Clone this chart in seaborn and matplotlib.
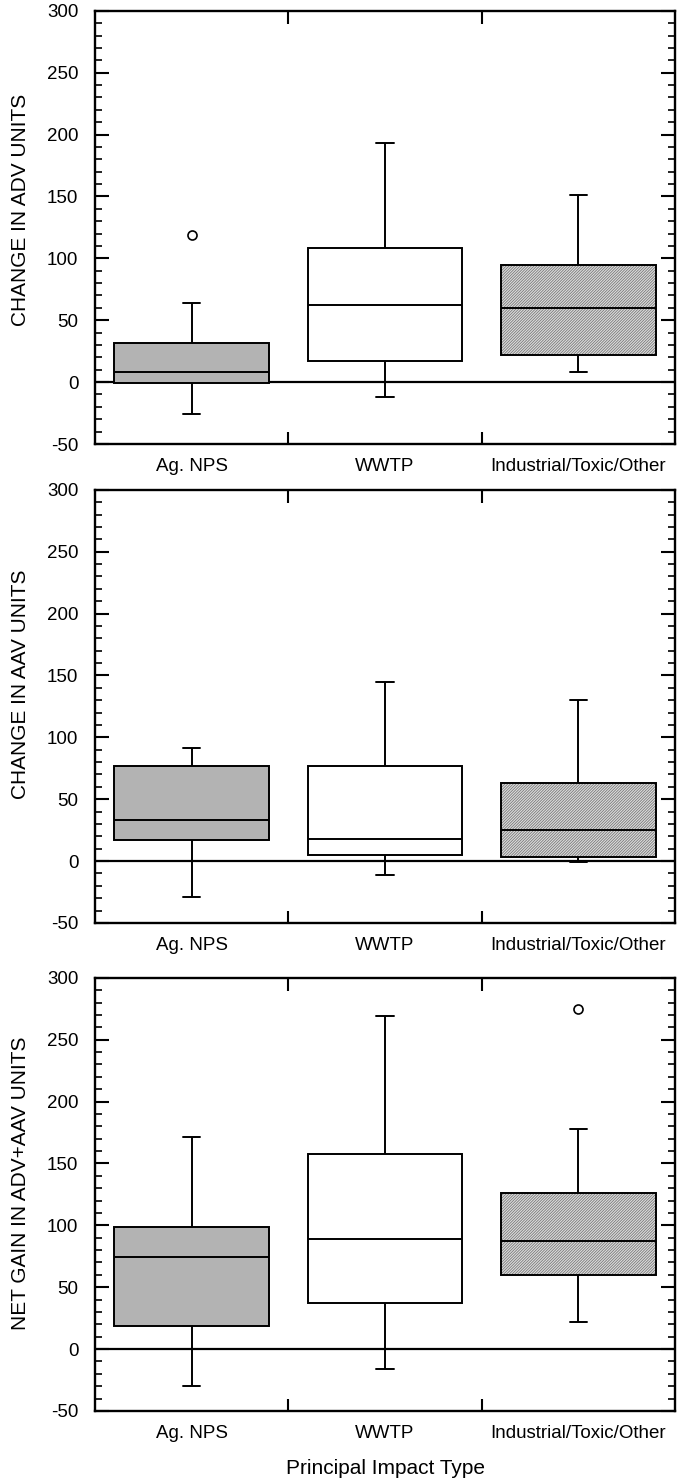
import numpy as np
import pandas as pd
import matplotlib
matplotlib.use("Agg")
import matplotlib.pyplot as plt
from matplotlib.ticker import MultipleLocator
import seaborn as sns

# ---------------- data ----------------
categories = ["Ag. NPS", "WWTP", "Industrial/Toxic/Other"]

adv_low = [-26, -12, 8]
adv_q1 = [-1, 17, 22]
adv_med = [8, 62, 60]
adv_q3 = [32, 108, 95]
adv_high = [64, 193, 151]
adv_out_cat = ["Ag. NPS"]
adv_out_val = [119]

aav_low = [-29, -11, -1]
aav_q1 = [17, 5, 3]
aav_med = [33, 18, 25]
aav_q3 = [77, 77, 63]
aav_high = [91, 145, 130]
aav_out_cat = []
aav_out_val = []

net_low = [-30, -16, 22]
net_q1 = [19, 37, 60]
net_med = [74, 89, 87]
net_q3 = [99, 158, 126]
net_high = [171, 269, 178]
net_out_cat = ["Industrial/Toxic/Other"]
net_out_val = [275]

ylabels = ["CHANGE IN ADV UNITS", "CHANGE IN AAV UNITS", "NET GAIN IN ADV+AAV UNITS"]
xlabel = "Principal Impact Type"
yticks = [-50, 0, 50, 100, 150, 200, 250, 300]

# ---------------- style ----------------
sns.set_style("ticks")
plt.rcParams["font.family"] = ["Liberation Sans", "DejaVu Sans"]
plt.rcParams["axes.unicode_minus"] = False
plt.rcParams["hatch.linewidth"] = 0.55
for k in ["text.color", "axes.labelcolor", "xtick.color", "ytick.color", "axes.edgecolor"]:
    plt.rcParams[k] = "black"

palette = {"Ag. NPS": "#b3b3b3", "WWTP": "#ffffff", "Industrial/Toxic/Other": "#dcdcdc"}

fig = plt.figure(figsize=(6.8, 14.81), dpi=100)
positions = [0.7002, 0.3768, 0.0473]
label_y = [0.54, 0.55, 0.525]

panels = [
    (adv_low, adv_q1, adv_med, adv_q3, adv_high, adv_out_cat, adv_out_val),
    (aav_low, aav_q1, aav_med, aav_q3, aav_high, aav_out_cat, aav_out_val),
    (net_low, net_q1, net_med, net_q3, net_high, net_out_cat, net_out_val),
]

for i, (lo, q1, med, q3, hi, ocat, oval) in enumerate(panels):
    ax = fig.add_axes([0.1397, positions[i], 0.853, 0.2925])
    rows = []
    for c, a, b, m, d, e in zip(categories, lo, q1, med, q3, hi):
        for v in (a, b, m, d, e):
            rows.append((c, v))
    df = pd.DataFrame(rows, columns=["cat", "val"])
    sns.boxplot(data=df, x="cat", y="val", hue="cat", order=categories,
                hue_order=categories, palette=palette, legend=False,
                whis=(0, 100), width=0.8, linewidth=1.4, linecolor="black",
                saturation=1, showfliers=False, capwidths=0.09, ax=ax)
    # hatch the Industrial box
    patch = ax.patches[2]
    patch.set_hatch("////////////")
    try:
        patch._hatch_color = (0.45, 0.45, 0.45, 1.0)
    except Exception:
        pass
    if ocat:
        odf = pd.DataFrame({"cat": ocat, "val": oval})
        sns.stripplot(data=odf, x="cat", y="val", order=categories, jitter=False,
                      color="white", edgecolor="black", linewidth=1.2, size=6.5,
                      ax=ax, zorder=5)
    ax.axhline(0, color="black", lw=1.6, zorder=0.5)

    ax.set_xlim(-0.5, 2.5)
    ax.set_ylim(-50, 300)
    ax.set_yticks(yticks)
    ax.yaxis.set_minor_locator(MultipleLocator(10))
    ax.set_xticks([0, 1, 2])
    ax.set_xticklabels(categories)
    ax.set_xticks([0.5, 1.5], minor=True)
    ax.tick_params(axis="y", which="major", direction="in", length=10, width=1.5,
                   left=True, right=True, labelsize=13.5, pad=12)
    ax.tick_params(axis="y", which="minor", direction="in", length=5, width=1.2,
                   left=True, right=True)
    ax.tick_params(axis="x", which="major", length=0, labelsize=13.5, pad=10)
    ax.tick_params(axis="x", which="minor", direction="in", length=9, width=1.5,
                   top=True, bottom=True)
    for s in ax.spines.values():
        s.set_visible(True)
        s.set_linewidth(1.7)
        s.set_color("black")
    ax.set_ylabel(ylabels[i], fontsize=15)
    ax.yaxis.set_label_coords(-0.112, label_y[i])
    if i == 2:
        ax.set_xlabel(xlabel, fontsize=15, labelpad=12)
    else:
        ax.set_xlabel("")

fig.savefig("out.png", dpi=100)
